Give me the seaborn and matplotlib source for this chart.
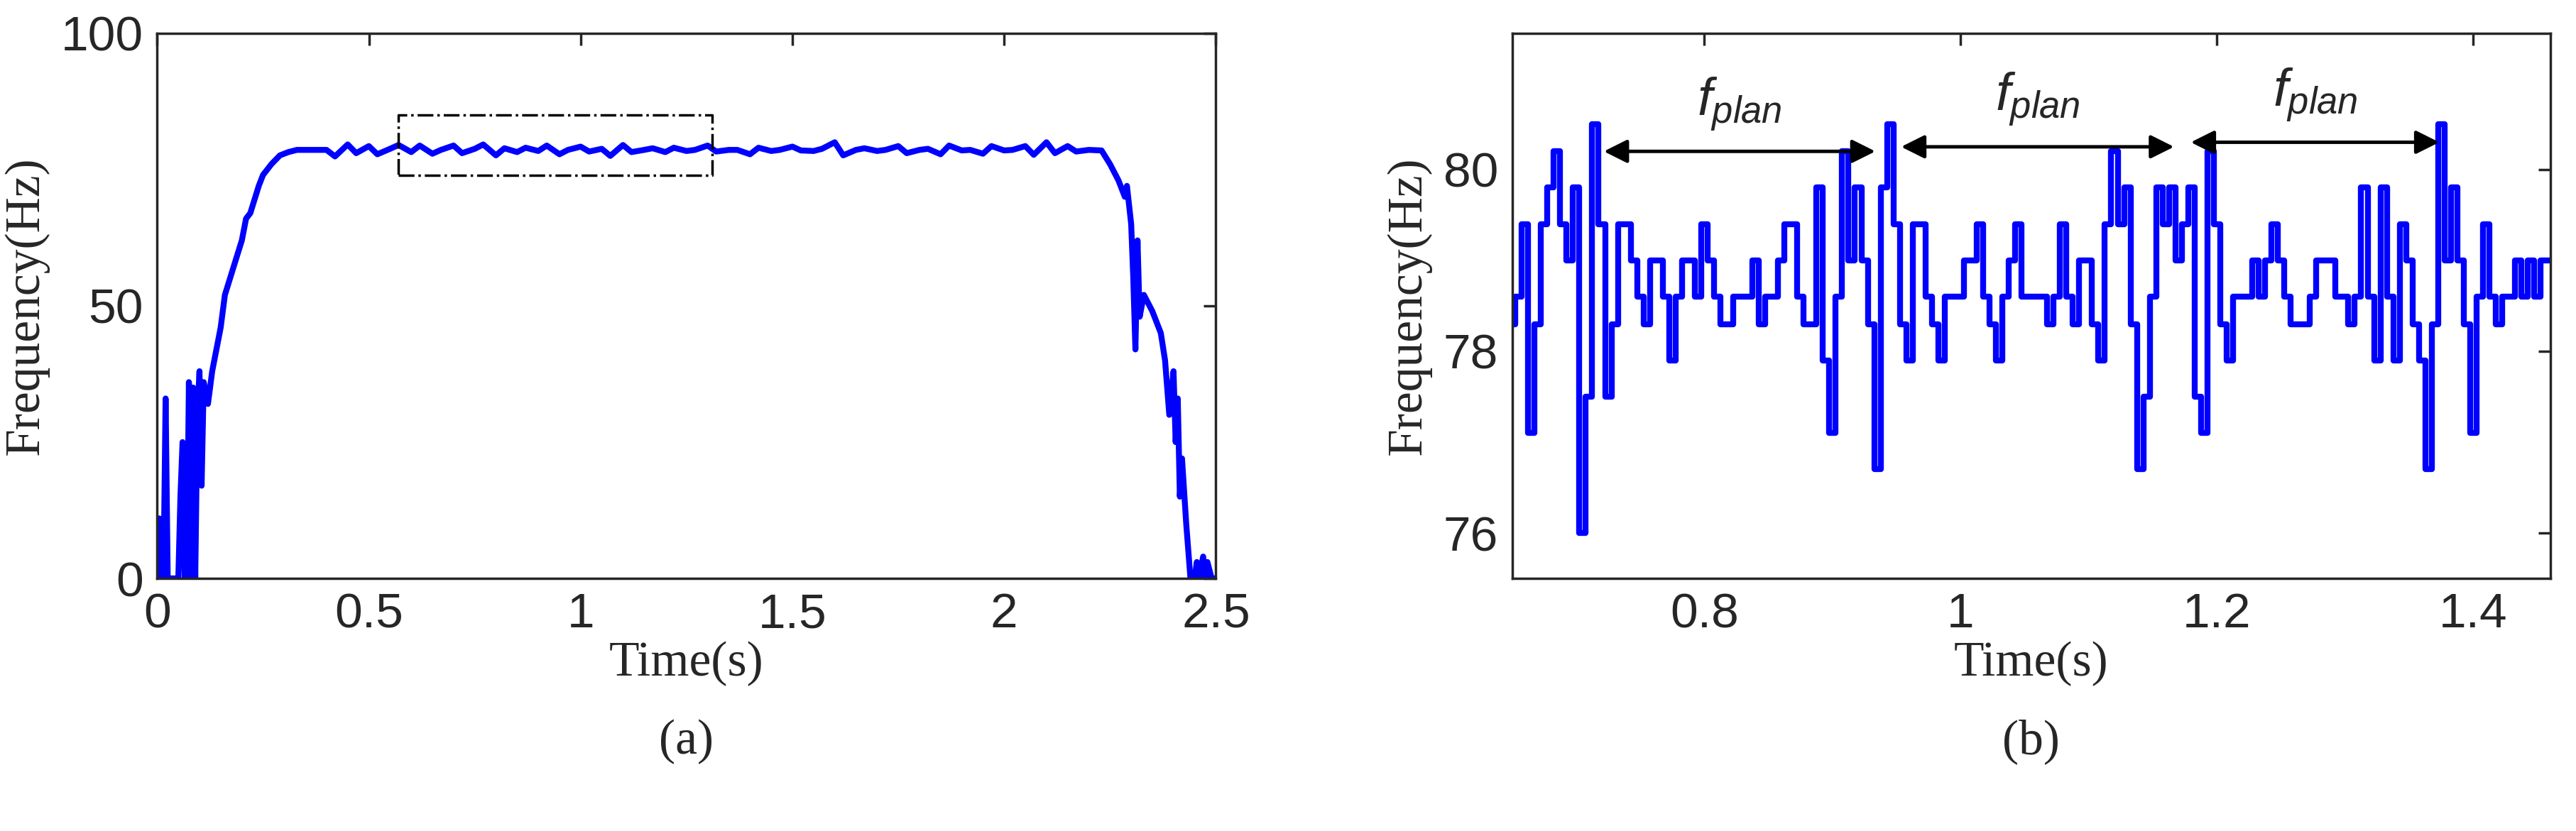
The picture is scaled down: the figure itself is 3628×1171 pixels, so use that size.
import numpy as np
import pandas as pd
import seaborn as sns
import matplotlib.pyplot as plt

# panel (a): full run
a_time = [0, 0.005, 0.01, 0.015, 0.02, 0.025, 0.03, 0.035, 0.04, 0.05, 0.055, 0.06, 0.065, 0.07,
          0.075, 0.08, 0.085, 0.09, 0.095, 0.1, 0.105, 0.11, 0.12, 0.13, 0.14, 0.15, 0.16, 0.18,
          0.2, 0.21, 0.22, 0.24, 0.25, 0.27, 0.29, 0.31, 0.33, 0.35,
          0.4, 0.42, 0.45, 0.47, 0.5, 0.52, 0.55, 0.57, 0.6, 0.62, 0.65, 0.67, 0.7, 0.72, 0.75,
          0.77, 0.8, 0.82, 0.85, 0.87, 0.9, 0.92, 0.95, 0.97, 1.0, 1.02, 1.05, 1.07, 1.1, 1.12,
          1.15, 1.17, 1.2, 1.22, 1.25, 1.27, 1.3, 1.32, 1.35, 1.37, 1.4, 1.42, 1.45, 1.47, 1.5,
          1.52, 1.55, 1.57, 1.6, 1.62, 1.65, 1.67, 1.7, 1.72, 1.75, 1.77, 1.8, 1.82, 1.85, 1.87,
          1.9, 1.92, 1.95, 1.97, 2.0, 2.02, 2.05, 2.07, 2.1, 2.12, 2.15, 2.17, 2.2, 2.23, 2.25,
          2.27, 2.285, 2.29, 2.3, 2.305,
          2.31, 2.315, 2.32, 2.33, 2.35, 2.37, 2.38, 2.39, 2.4, 2.405, 2.41, 2.415, 2.42,
          2.43, 2.44, 2.45, 2.455, 2.46, 2.47, 2.475, 2.48, 2.49, 2.5]
a_freq = [3, 11, 0, 0, 33, 0, 0, 0, 0, 0, 15, 25, 0, 0, 36, 0, 35, 0, 30, 38, 17, 36, 32, 38,
          42, 46, 52, 57, 62, 66, 67, 72, 74, 76, 77.6, 78.2, 78.6, 78.6,
          78.6, 77.4, 79.6, 78.0, 79.3, 77.8, 78.8, 79.5, 78.2, 79.4, 77.9, 78.6, 79.4, 78.0,
          78.8, 79.6, 77.6, 78.9, 78.2, 79.0, 78.4, 79.4, 77.8, 78.6, 79.2, 78.3, 78.8, 77.5,
          79.5, 78.2, 78.6, 78.9, 78.2, 79.0, 78.4, 78.6, 79.4, 78.3, 78.6, 78.6, 77.8, 79.0,
          78.4, 78.6, 79.2, 78.5, 78.4, 78.8, 80.0, 77.6, 78.6, 78.9, 78.4, 78.6, 79.3, 78.0,
          78.6, 78.8, 77.8, 79.4, 78.5, 78.6, 77.9, 79.3, 78.5, 78.6, 79.3, 77.7, 80.0, 78.0,
          79.3, 78.3, 78.6, 78.5, 76, 73, 70, 72, 65, 55,
          42, 62, 48, 52, 49, 45, 40, 30, 38, 25, 33, 15, 22, 10, 0, 0, 3, 0, 4, 0, 3, 0, 0]

# panel (b): zoom on steady state, sampled every 5 ms
b_freq = [78.3, 78.6, 79.4, 77.1, 78.3, 79.4, 79.8, 80.2, 79.4, 79.0,
          79.8, 76.0, 77.5, 80.5, 79.4, 77.5, 78.3, 79.4, 79.4, 79.0,
          78.6, 78.3, 79.0, 79.0, 78.6, 77.9, 78.6, 79.0, 79.0, 78.6,
          79.4, 79.0, 78.6, 78.3, 78.3, 78.6, 78.6, 78.6, 79.0, 78.3,
          78.6, 78.6, 79.0, 79.4, 79.4, 78.6, 78.3, 78.3, 79.8, 77.9,
          77.1, 78.6, 80.2, 79.0, 79.8, 79.0, 78.3, 76.7, 79.8, 80.5,
          79.4, 78.3, 77.9, 79.4, 79.4, 78.6, 78.3, 77.9, 78.6, 78.6,
          78.6, 79.0, 79.0, 79.4, 78.6, 78.3, 77.9, 78.6, 79.0, 79.4,
          78.6, 78.6, 78.6, 78.6, 78.3, 78.6, 79.4, 78.6, 78.3, 79.0,
          79.0, 78.3, 77.9, 79.4, 80.2, 79.4, 79.8, 78.3, 76.7, 77.5,
          78.6, 79.8, 79.4, 79.8, 79.0, 79.4, 79.8, 77.5, 77.1, 80.2,
          79.4, 78.3, 77.9, 78.6, 78.6, 78.6, 79.0, 78.6, 79.0, 79.4,
          79.0, 78.6, 78.3, 78.3, 78.3, 78.6, 79.0, 79.0, 79.0, 78.6,
          78.6, 78.3, 78.6, 79.8, 78.6, 77.9, 79.8, 78.6, 77.9, 79.4,
          79.0, 78.3, 77.9, 76.7, 78.3, 80.5, 79.0, 79.8, 79.0, 78.3,
          77.1, 78.6, 79.4, 78.6, 78.3, 78.6, 78.6, 79.0, 78.6, 79.0,
          78.6, 79.0, 79.0]
b_time = 0.65 + 0.005 * np.arange(len(b_freq))

# f_plan arrows (start, end)
arrow_x = [(0.72, 0.935), (0.952, 1.168), (1.178, 1.375)]
arrow_y = [80.2, 80.25, 80.3]

df_a = pd.DataFrame({'t': a_time, 'f': a_freq})
df_b = pd.DataFrame({'t': b_time, 'f': b_freq})

sns.set_style('white')
plt.rcParams['mathtext.fontset'] = 'custom'
plt.rcParams['mathtext.it'] = 'Liberation Sans:italic'
plt.rcParams['mathtext.rm'] = 'Liberation Sans'
tick_font = ['Liberation Sans', 'DejaVu Sans']
label_font = ['Liberation Serif', 'DejaVu Serif']

fig = plt.figure(figsize=(36.28, 11.71), dpi=100)
ax1 = fig.add_axes([0.061, 0.304, 0.411, 0.656])
ax2 = fig.add_axes([0.587, 0.304, 0.403, 0.656])

sns.lineplot(data=df_a, x='t', y='f', ax=ax1, color='#0000ff', lw=6, estimator=None, sort=False)
sns.lineplot(data=df_b, x='t', y='f', ax=ax2, color='#0000ff', lw=6, estimator=None, sort=False,
             drawstyle='steps-mid')

# dash-dot box marking the zoomed region
ax1.plot([0.57, 1.31, 1.31, 0.57, 0.57], [74, 74, 85, 85, 74], color='black', lw=2.5,
         ls='-.')

ax1.set_xlim(0, 2.5)
ax1.set_ylim(0, 100)
ax1.set_xticks([0, 0.5, 1, 1.5, 2, 2.5])
ax1.set_xticklabels(['0', '0.5', '1', '1.5', '2', '2.5'])
ax1.set_yticks([0, 50, 100])

ax2.set_xlim(0.65, 1.46)
ax2.set_ylim(75.5, 81.5)
ax2.set_xticks([0.8, 1.0, 1.2, 1.4])
ax2.set_xticklabels(['0.8', '1', '1.2', '1.4'])
ax2.set_yticks([76, 78, 80])

for (x0, x1), y in zip(arrow_x, arrow_y):
    ax2.annotate('', xy=(x1, y), xytext=(x0, y),
                 arrowprops=dict(arrowstyle='<|-|>', color='black', lw=3.5,
                                 mutation_scale=50))
    ax2.text((x0 + x1) / 2, y + 0.2, r'$f_{plan}$', fontsize=54, ha='center',
             va='bottom')

for ax, tag in [(ax1, '(a)'), (ax2, '(b)')]:
    for s in ax.spines.values():
        s.set_linewidth(2.5)
        s.set_color('#262626')
    ax.tick_params(direction='in', length=12, width=2.5, labelsize=50, top=True, right=True,
                   pad=14)
    for lab in ax.get_xticklabels() + ax.get_yticklabels():
        lab.set_family(tick_font)
    ax.set_xlabel('Time(s)', fontsize=50, family=label_font, labelpad=4)
    ax.set_ylabel('Frequency(Hz)', fontsize=50, family=label_font, labelpad=12)
    ax.text(0.5, -0.3, tag, transform=ax.transAxes, ha='center', va='center', fontsize=50,
            family=label_font)

fig.savefig('out.png', dpi=100, facecolor='white')
